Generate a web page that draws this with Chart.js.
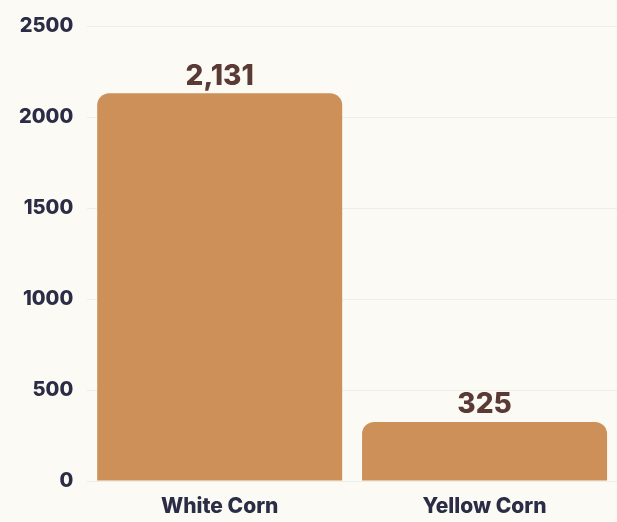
<!DOCTYPE html>
<html>
<head>
<meta charset="utf-8">
<script src="https://cdn.jsdelivr.net/npm/chart.js@4/dist/chart.umd.min.js"></script>
<style>
    html, body { margin: 0; padding: 0; background: #fbfaf4; }
    #wrap { width: 617px; height: 522px; position: relative; }
</style>
</head>
<body>
<div id="wrap"><canvas id="cornChart"></canvas></div>
<script>
const categories = ['White Corn', 'Yellow Corn']
const production = [2131, 325]
const yTicks = [0, 500, 1000, 1500, 2000, 2500]

const barColor = '#cd9058'
const labelColor = '#5b3a36'
const axisColor = '#2b2c45'
const fontFamily = 'Inter, "Open Sans", sans-serif'

// draws the value above each bar
const valueLabels = {
    id: 'valueLabels',
    afterDatasetsDraw(chart) {
        const ctx = chart.ctx
        const meta = chart.getDatasetMeta(0)
        ctx.save()
        ctx.fillStyle = labelColor
        ctx.textAlign = 'center'
        ctx.textBaseline = 'bottom'
        ctx.font = `800 28px ${fontFamily}`
        meta.data.forEach((bar, i) => {
            const value = chart.data.datasets[0].data[i]
            ctx.fillText(value.toLocaleString('en-US'), bar.x, bar.y - 3)
        })
        ctx.restore()
    }
}

function createChart(target) {
    const ctx = document.getElementById(target).getContext('2d')
    return new Chart(ctx, {
        type: 'bar',
        data: {
            labels: categories,
            datasets: [{
                data: production,
                backgroundColor: barColor,
                borderRadius: { topLeft: 12, topRight: 12 },
                borderSkipped: 'bottom',
                categoryPercentage: 1,
                barPercentage: 0.925
            }]
        },
        options: {
            responsive: true,
            maintainAspectRatio: false,
            animation: false,
            layout: { padding: { top: 4, right: 0, bottom: -2, left: 5 } },
            plugins: {
                legend: { display: false },
                tooltip: { enabled: false }
            },
            scales: {
                x: {
                    grid: { display: false },
                    border: { display: false },
                    ticks: {
                        color: axisColor,
                        padding: 8,
                        font: { family: fontFamily, size: 21, weight: '800', lineHeight: 0.9 }
                    }
                },
                y: {
                    min: yTicks[0],
                    max: yTicks[yTicks.length - 1],
                    afterBuildTicks(axis) {
                        axis.ticks = yTicks.map(v => ({ value: v }))
                    },
                    grid: { color: 'rgba(0, 0, 0, 0.05)', drawTicks: false },
                    border: { display: false },
                    ticks: {
                        color: axisColor,
                        padding: 14,
                        callback: v => String(v),
                        font: { family: fontFamily, size: 20, weight: '800' }
                    }
                }
            }
        },
        plugins: [valueLabels]
    })
}

createChart('cornChart')
</script>
</body>
</html>
